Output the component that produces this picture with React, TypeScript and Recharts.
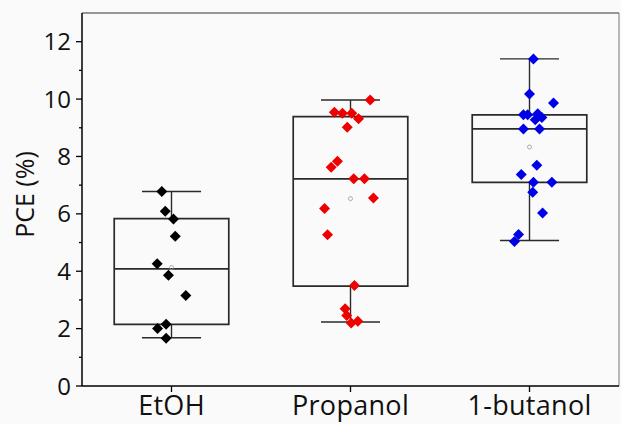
import { ComposedChart, Scatter, XAxis, YAxis, ReferenceArea, ReferenceLine, Label } from "recharts";

const categories = ["EtOH", "Propanol", "1-butanol"];
const pointColors = ["#000000", "#ee0000", "#0000e6"];

// box statistics
const whiskerLow = [1.68, 2.23, 5.07];
const q1 = [2.15, 3.48, 7.1];
const median = [4.08, 7.22, 8.96];
const q3 = [5.83, 9.39, 9.45];
const whiskerHigh = [6.78, 9.97, 11.4];
const means = [4.13, 6.53, 8.33];

// individual cells (PCE %) and their horizontal jitter around the category
const etohValues = [6.78, 6.09, 5.82, 5.22, 4.26, 3.86, 3.15, 2.15, 2.0, 1.66];
const etohJitter = [-0.054, -0.035, 0.011, 0.021, -0.08, -0.017, 0.08, -0.03, -0.078, -0.03];

const propanolValues = [9.97, 9.54, 9.51, 9.51, 9.31, 9.02, 7.83, 7.62, 7.22, 7.22, 6.55, 6.19, 5.27, 3.5, 2.69, 2.46, 2.2, 2.26];
const propanolJitter = [0.11, -0.09, -0.045, 0.007, 0.045, -0.018, -0.073, -0.108, 0.018, 0.078, 0.128, -0.145, -0.128, 0.022, -0.03, -0.021, 0.004, 0.041];

const butanolValues = [11.4, 10.18, 9.86, 9.45, 9.45, 9.49, 9.36, 9.28, 8.96, 8.96, 7.69, 7.37, 7.1, 7.1, 6.75, 6.03, 5.28, 5.04];
const butanolJitter = [0.022, 0, 0.134, -0.034, -0.01, 0.046, 0.069, 0.032, -0.034, 0.056, 0.041, -0.046, 0.022, 0.125, 0.018, 0.073, -0.061, -0.084];

const yTicks = [0, 1, 2, 3, 4, 5, 6, 7, 8, 9, 10, 11, 12];

const groups = [
  { values: etohValues, jitter: etohJitter },
  { values: propanolValues, jitter: propanolJitter },
  { values: butanolValues, jitter: butanolJitter },
];

const scatterData = groups.map((g, gi) => g.values.map((v, i) => ({ x: gi + 1 + g.jitter[i], y: v })));
const meanData = means.map((m, i) => ({ x: i + 1, y: m }));

const BOX_HALF = 0.32;
const CAP_HALF = 0.165;
const boxStroke = "#2a2a2a";
const font = "'Open Sans', 'Noto Sans', sans-serif";

const Diamond = (props: any) => {
  const { cx, cy, fill } = props;
  const r = 5.5;
  return <polygon points={`${cx},${cy - r} ${cx + r},${cy} ${cx},${cy + r} ${cx - r},${cy}`} fill={fill} />;
};

const MeanDot = (props: any) => {
  const { cx, cy } = props;
  return <circle cx={cx} cy={cy} r={2} fill="none" stroke="#999" strokeWidth={0.8} />;
};

const YTick = (props: any) => {
  const { x, y, payload } = props;
  const major = payload.value % 2 === 0;
  return (
    <g>
      <line x1={major ? x + 4 : x + 7} x2={x + 10} y1={y} y2={y} stroke="#000" strokeWidth={1.3} />
      {major && (
        <text x={x - 1} y={y} dy="0.36em" textAnchor="end" fontSize={24} fill="#111" fontFamily={font}>
          {payload.value}
        </text>
      )}
    </g>
  );
};

const App = () => {
  return (
    <div style={{ position: "absolute", left: 0, top: 0, width: 621, height: 424, background: "#fafafa" }}>
      <ComposedChart width={621} height={424} margin={{ top: 13, right: 2, bottom: 0, left: 0 }}>
        <XAxis
          type="number"
          dataKey="x"
          domain={[0.5, 3.5]}
          ticks={[1, 2, 3]}
          tickFormatter={(v: number) => categories[v - 1]}
          height={38}
          tickSize={6}
          tickMargin={4}
          axisLine={{ stroke: "#000", strokeWidth: 1.5 }}
          tickLine={{ stroke: "#000", strokeWidth: 1.3 }}
          tick={{ fontSize: 27, fill: "#111", fontFamily: font, letterSpacing: 0.3 }}
        />
        <YAxis
          type="number"
          dataKey="y"
          domain={[0, 13]}
          ticks={yTicks}
          interval={0}
          width={82}
          tickSize={6}
          tickMargin={4}
          tickLine={false}
          axisLine={{ stroke: "#000", strokeWidth: 1.5 }}
          tick={<YTick />}
        >
          <Label value="PCE (%)" angle={-90} position="center" dx={-16} dy={-5} style={{ fontSize: 25, fill: "#111", fontFamily: font }} />
        </YAxis>

        <ReferenceLine y={13} stroke="#333" strokeWidth={1.2} />
        <ReferenceLine x={3.5} stroke="#777" strokeWidth={1} />

        {categories.map((c, i) => (
          <ReferenceArea
            key={`box-${c}`}
            x1={i + 1 - BOX_HALF}
            x2={i + 1 + BOX_HALF}
            y1={q1[i]}
            y2={q3[i]}
            fill="none"
            fillOpacity={0}
            stroke={boxStroke}
            strokeWidth={1.7}
          />
        ))}
        {categories.map((c, i) => (
          <ReferenceLine
            key={`med-${c}`}
            segment={[{ x: i + 1 - BOX_HALF, y: median[i] }, { x: i + 1 + BOX_HALF, y: median[i] }]}
            stroke={boxStroke}
            strokeWidth={1.7}
          />
        ))}
        {categories.map((c, i) => (
          <ReferenceLine
            key={`wup-${c}`}
            segment={[{ x: i + 1, y: q3[i] }, { x: i + 1, y: whiskerHigh[i] }]}
            stroke={boxStroke}
            strokeWidth={1.4}
          />
        ))}
        {categories.map((c, i) => (
          <ReferenceLine
            key={`wlo-${c}`}
            segment={[{ x: i + 1, y: q1[i] }, { x: i + 1, y: whiskerLow[i] }]}
            stroke={boxStroke}
            strokeWidth={1.4}
          />
        ))}
        {categories.map((c, i) => (
          <ReferenceLine
            key={`cap-hi-${c}`}
            segment={[{ x: i + 1 - CAP_HALF, y: whiskerHigh[i] }, { x: i + 1 + CAP_HALF, y: whiskerHigh[i] }]}
            stroke={boxStroke}
            strokeWidth={1.4}
          />
        ))}
        {categories.map((c, i) => (
          <ReferenceLine
            key={`cap-lo-${c}`}
            segment={[{ x: i + 1 - CAP_HALF, y: whiskerLow[i] }, { x: i + 1 + CAP_HALF, y: whiskerLow[i] }]}
            stroke={boxStroke}
            strokeWidth={1.4}
          />
        ))}

        <Scatter data={meanData} shape={<MeanDot />} isAnimationActive={false} />
        {categories.map((c, i) => (
          <Scatter key={`pts-${c}`} name={c} data={scatterData[i]} fill={pointColors[i]} shape={<Diamond />} isAnimationActive={false} />
        ))}
      </ComposedChart>
    </div>
  );
};

export default App;
